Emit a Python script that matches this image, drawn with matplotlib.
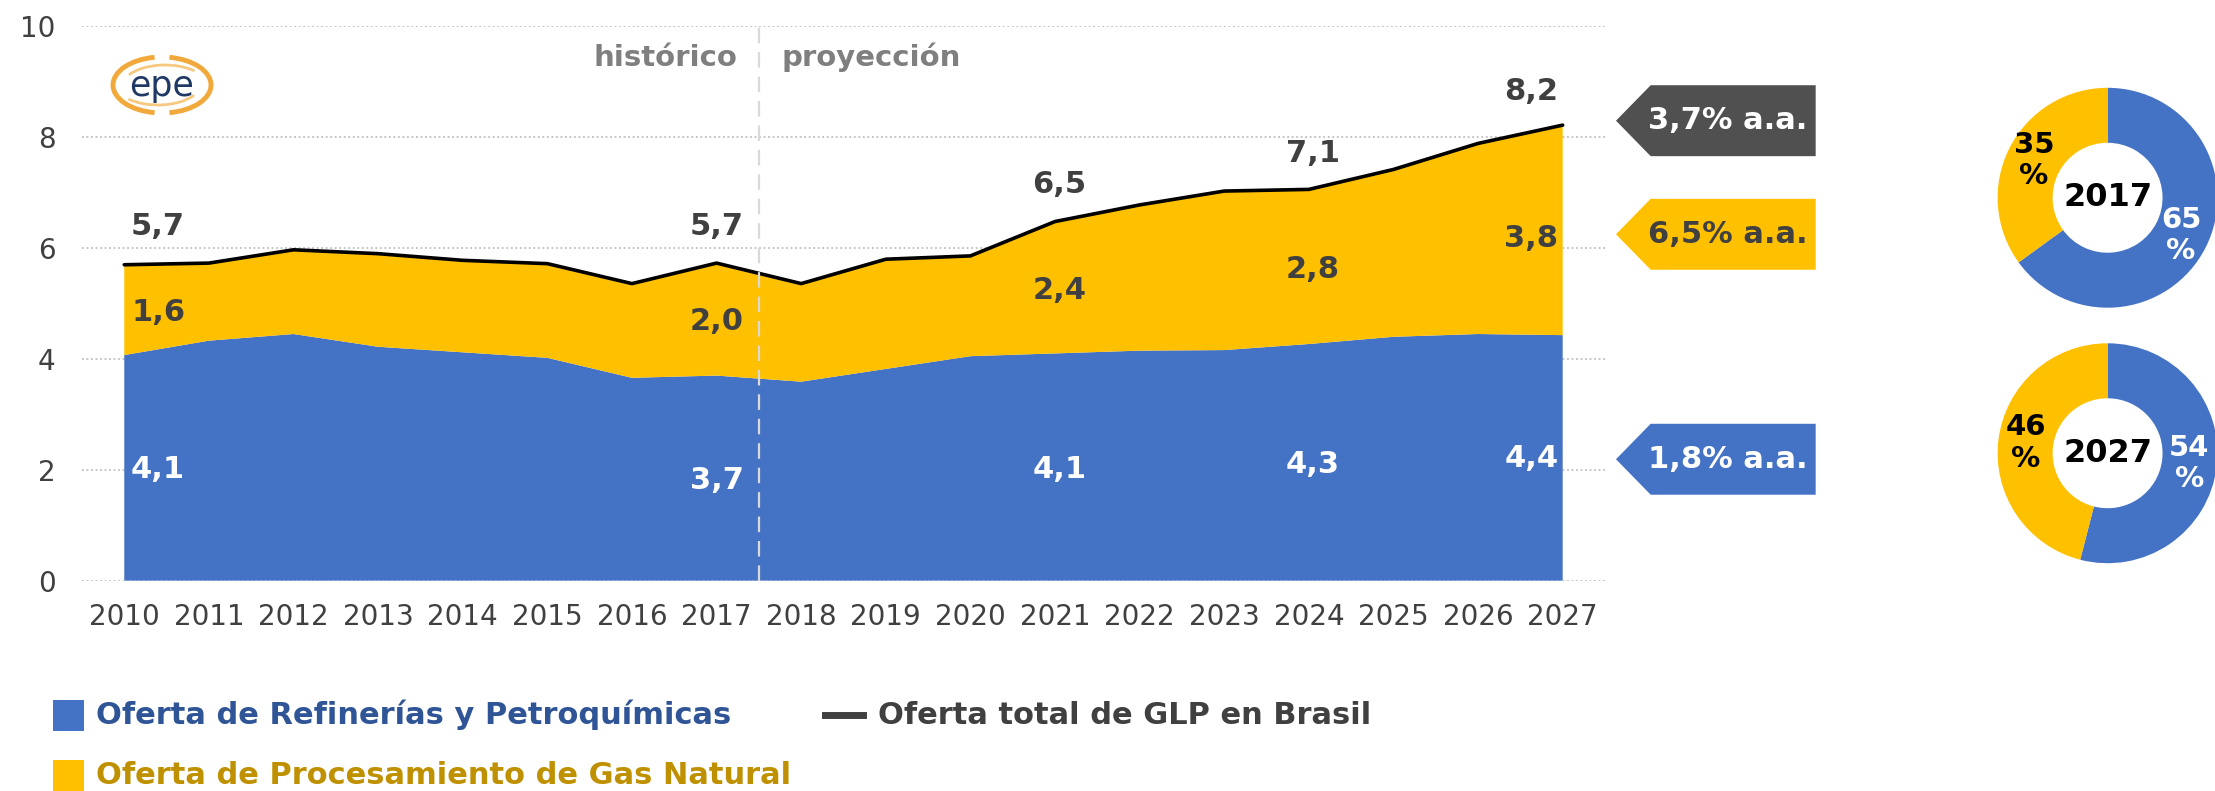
import matplotlib
matplotlib.use('Agg')
import matplotlib.pyplot as plt
from matplotlib.patches import Polygon, Rectangle, Arc
from matplotlib.lines import Line2D

# datos (millones de m3 / año)
years = list(range(2010, 2028))
refinerias = [4.07, 4.33, 4.45, 4.22, 4.12, 4.02, 3.66, 3.70, 3.59, 3.82,
              4.05, 4.10, 4.15, 4.16, 4.27, 4.40, 4.45, 4.43]
gas_natural = [1.63, 1.40, 1.52, 1.68, 1.66, 1.70, 1.70, 2.03, 1.77, 1.98,
               1.81, 2.38, 2.63, 2.87, 2.79, 3.02, 3.44, 3.79]
total = [r + g for r, g in zip(refinerias, gas_natural)]

label_years = [2010, 2017, 2021, 2024, 2027]
tasas = ['3,7% a.a.', '6,5% a.a.', '1,8% a.a.']
share_2017 = [65, 35]
share_2027 = [54, 46]

BLUE = '#4472C4'
YELLOW = '#FFC000'
DARK = '#404040'

# label placement (style only)
lbl_x = [2010.4, 2017.0, 2021.05, 2024.05, 2026.63]
lbl_y_total = [6.39, 6.39, 7.15, 7.71, 8.83]
lbl_y_gas = [4.83, 4.68, 5.24, 5.62, 6.18]
lbl_y_ref = [2.0, 1.8, 2.0, 2.1, 2.2]


def fmt(v):
    return f'{v:.1f}'.replace('.', ',')


fig = plt.figure(figsize=(22.15, 7.91), dpi=100)
ax = fig.add_axes([0.037, 0.266, 0.6876, 0.7005])

ax.stackplot(years, refinerias, gas_natural, colors=[BLUE, YELLOW], zorder=2)
ax.plot(years, total, color='black', lw=2.6, zorder=3, solid_capstyle='round')

ax.set_xlim(2009.5, 2027.5)
ax.set_ylim(0, 10)
ax.set_xticks(years)
ax.set_yticks(range(0, 11, 2))
ax.grid(axis='y', color='#BFBFBF', linestyle=(0, (1, 1.5)), lw=1.3)
ax.set_axisbelow(True)
for s in ax.spines.values():
    s.set_visible(False)
ax.tick_params(length=0, labelsize=20, colors=DARK)
ax.tick_params(axis='y', pad=19)
ax.tick_params(axis='x', pad=16)

# historico / proyeccion
ax.plot([2017.5, 2017.5], [0, 10], color='#D9D9D9', lw=1.6,
        dashes=(7, 4), zorder=4)
ax.text(2017.25, 9.44, 'histórico', ha='right', va='center', fontsize=21,
        fontweight='bold', color='#7F7F7F')
ax.text(2017.77, 9.44, 'proyección', ha='left', va='center', fontsize=21,
        fontweight='bold', color='#7F7F7F')

# etiquetas de valores
for k, yr in enumerate(label_years):
    i = years.index(yr)
    ax.text(lbl_x[k], lbl_y_total[k], fmt(total[i]), ha='center', va='center',
            fontsize=22, fontweight='bold', color=DARK, zorder=5)
    ax.text(lbl_x[k], lbl_y_gas[k], fmt(gas_natural[i]), ha='center', va='center',
            fontsize=22, fontweight='bold', color=DARK, zorder=5)
    ax.text(lbl_x[k], lbl_y_ref[k], fmt(refinerias[i]), ha='center', va='center',
            fontsize=22, fontweight='bold', color='white', zorder=5)

# flechas de crecimiento
arrow_y = [8.3, 6.25, 2.19]
arrow_fc = ['#505050', YELLOW, BLUE]
arrow_tc = ['white', DARK, 'white']
h = 0.64
for yc, fc, tc, t in zip(arrow_y, arrow_fc, arrow_tc, tasas):
    poly = Polygon([(2027.63, yc), (2028.04, yc + h), (2029.99, yc + h),
                    (2029.99, yc - h), (2028.04, yc - h)], closed=True,
                   facecolor=fc, edgecolor='none', clip_on=False, zorder=6)
    ax.add_patch(poly)
    ax.text(2028.95, yc, t, ha='center', va='center', fontsize=22,
            fontweight='bold', color=tc, clip_on=False, zorder=7)

# donas
for share, yr, cy in [(share_2017, '2017', 0.75), (share_2027, '2027', 0.427)]:
    dax = fig.add_axes([0.9515 - 0.0497, cy - 0.139, 0.0994, 0.278])
    wedges, texts, autotexts = dax.pie(
        share, colors=[BLUE, YELLOW], startangle=90, counterclock=False,
        radius=1, wedgeprops=dict(width=0.5, edgecolor='none'),
        autopct=lambda p: f'{p:.0f}\n%', pctdistance=0.75,
        textprops=dict(fontsize=21, fontweight='bold', linespacing=1.15))
    autotexts[0].set_color('white')
    autotexts[1].set_color('black')
    dax.text(0, 0, yr, ha='center', va='center', fontsize=23,
             fontweight='bold', color='black')
    dax.set_xlim(-1, 1)
    dax.set_ylim(-1, 1)

# logo epe
lax = fig.add_axes([100 / 2215, 1 - 120 / 791, 125 / 2215, 70 / 791])
lax.set_xlim(100, 225)
lax.set_ylim(120, 50)
lax.axis('off')
lax.add_patch(Arc((162, 85), 98, 56, theta1=105, theta2=255, color='#F2A93B', lw=3.5))
lax.add_patch(Arc((162, 85), 98, 56, theta1=-75, theta2=75, color='#F2A93B', lw=3.5))
lax.add_patch(Arc((165, 88), 88, 46, theta1=200, theta2=330, color='#F7C980', lw=2))
lax.add_patch(Arc((158, 82), 88, 46, theta1=20, theta2=150, color='#F7C980', lw=2))
lax.text(162, 86, 'epe', ha='center', va='center', fontsize=25, color='#1F3864')

# leyenda
fig.add_artist(Rectangle((53 / 2215, 0.096 - 15.5 / 791), 31 / 2215, 31 / 791,
                         transform=fig.transFigure, facecolor=BLUE, edgecolor='none'))
fig.add_artist(Rectangle((53 / 2215, 0.020 - 15.5 / 791), 31 / 2215, 31 / 791,
                         transform=fig.transFigure, facecolor=YELLOW, edgecolor='none'))
fig.add_artist(Line2D([825 / 2215, 863 / 2215], [0.096, 0.096],
                      transform=fig.transFigure, color=DARK, lw=5))
fig.text(96 / 2215, 0.096, 'Oferta de Refinerías y Petroquímicas', ha='left',
         va='center', fontsize=22, fontweight='bold', color='#2F5597')
fig.text(96 / 2215, 0.020, 'Oferta de Procesamiento de Gas Natural', ha='left',
         va='center', fontsize=22, fontweight='bold', color='#BF9000')
fig.text(878 / 2215, 0.096, 'Oferta total de GLP en Brasil', ha='left',
         va='center', fontsize=22, fontweight='bold', color=DARK)

fig.savefig('out.png', dpi=100, facecolor='white')
